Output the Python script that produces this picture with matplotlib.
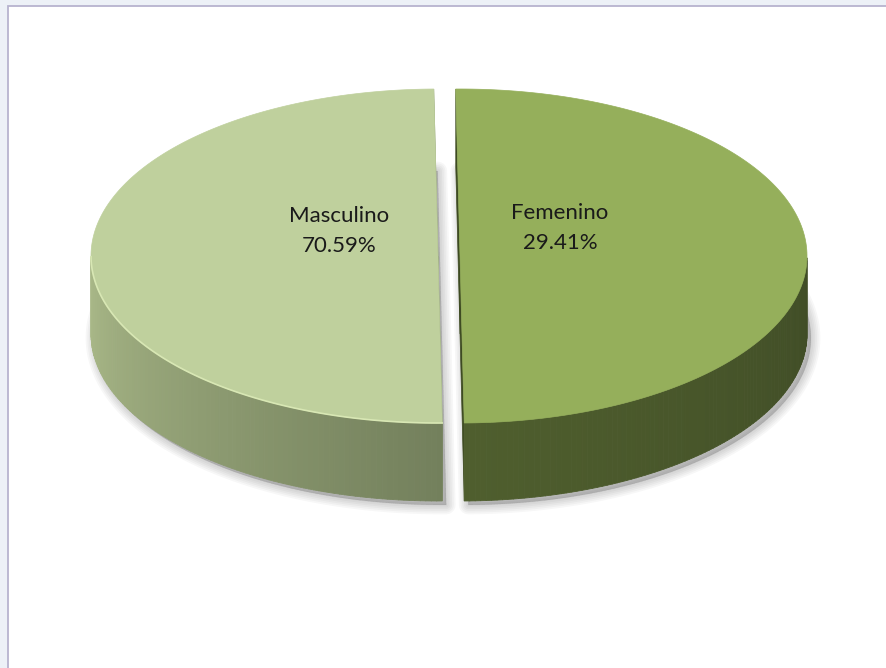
import numpy as np
import matplotlib
matplotlib.use('Agg')
import matplotlib.pyplot as plt
from matplotlib.patches import Polygon, Rectangle
from matplotlib.collections import PolyCollection

# datos
categorias = ['Masculino', 'Femenino']
porciones = [50.0, 50.0]          # tamaño de las porciones tal como se ven
porcentajes = [70.59, 29.41]      # etiquetas que muestra el grafico

col_top = ['#BFD09D', '#95AF5B']
col_wall_a = [(0.67, 0.73, 0.54), (0.31, 0.37, 0.18)]   # inicio de la pared
col_wall_b = [(0.45, 0.50, 0.36), (0.25, 0.30, 0.15)]   # fin de la pared
col_cut = ['#7C8C62', '#3E4B22']

CX, CY = 449.0, 256.0
RX, RY = 347.0, 167.0
PROF = 78.0
EXPL = 11.0
GIRO = 0.7

fig = plt.figure(figsize=(8.86, 6.68), dpi=100)
fig.patch.set_facecolor('#EDF1F7')
ax = fig.add_axes([0, 0, 1, 1])
ax.set_xlim(0, 886)
ax.set_ylim(668, 0)
ax.axis('off')

ax.add_patch(Rectangle((8.5, 5.5), 1000, 1000, facecolor='white',
                       edgecolor='#B7B3CF', lw=1.3, zorder=0))


def punto(t, ox, dy=0.0):
    r = np.radians(t)
    return (CX + ox + RX * np.cos(r), CY - RY * np.sin(r) + dy)


total = sum(porciones)
ini = 90 + GIRO
angulos = []
for v in porciones:
    fin = ini + 360.0 * v / total
    angulos.append((ini, fin))
    ini = fin

for i, (a0, a1) in enumerate(angulos):
    medio = np.radians((a0 + a1) / 2)
    ox = EXPL * np.cos(medio)
    ts = np.linspace(a0, a1, 200)
    arco = [punto(t, ox) for t in ts]
    centro = (CX + ox, CY)
    cara = [centro] + arco

    # sombra suave
    base = [(x + 4, y + PROF + 4) for x, y in cara]
    for k in range(6):
        ax.add_patch(Polygon(base, closed=True, facecolor='#000000',
                             edgecolor='#000000', lw=1 + 2.5 * k,
                             alpha=0.03, zorder=1, joinstyle='round'))

    # caras de corte
    for a in (a0, a1):
        px, py = punto(a, ox)
        ax.add_patch(Polygon([centro, (px, py), (px, py + PROF), (centro[0], CY + PROF)],
                             closed=True, facecolor=col_cut[i], edgecolor=col_cut[i],
                             lw=0.5, zorder=2))

    # pared exterior visible (frente)
    vis = [t for t in ts if np.sin(np.radians(t)) < 0.001]
    if len(vis) > 1:
        quads, cols = [], []
        t_lo, t_hi = vis[0], vis[-1]
        for j in range(len(vis) - 1):
            p0 = punto(vis[j], ox)
            p1 = punto(vis[j + 1], ox)
            quads.append([p0, p1, (p1[0], p1[1] + PROF), (p0[0], p0[1] + PROF)])
            f = (vis[j] - t_lo) / (t_hi - t_lo)
            c = tuple(col_wall_a[i][k] * (1 - f) + col_wall_b[i][k] * f for k in range(3))
            cols.append(c)
        ax.add_collection(PolyCollection(quads, facecolors=cols, edgecolors=cols,
                                         lw=0.6, zorder=3))
        if i == 0:
            borde = [punto(t, ox) for t in vis]
            ax.plot([p[0] for p in borde], [p[1] for p in borde],
                    color='#D8E7B4', lw=1.2, zorder=5)

    # cara superior
    ax.add_patch(Polygon(cara, closed=True, facecolor=col_top[i],
                         edgecolor=col_top[i], lw=0.5, zorder=4))

pos_etq = [(339, 231), (560, 228)]
for (x, y), cat, p in zip(pos_etq, categorias, porcentajes):
    ax.text(x, y, '%s\n%.2f%%' % (cat, p), ha='center', va='center',
            fontsize=16, family='Lato', color='#1A1A1A', linespacing=1.6,
            zorder=6)

fig.savefig('out.png', dpi=100, facecolor=fig.get_facecolor())
